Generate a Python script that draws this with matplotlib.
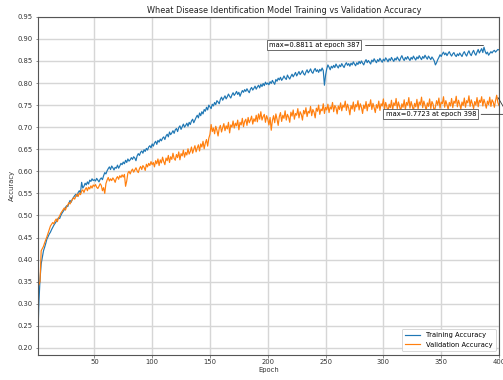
import numpy as np
import matplotlib
matplotlib.use('Agg')
import matplotlib.pyplot as plt

# accuracy per epoch
train_acc = [
    .209, .300, .355, .390, .405, .420, .428, .437, .447, .452,
    .458, .462, .468, .473, .478, .482, .486, .490, .495, .493,
    .500, .505, .509, .513, .518, .522, .520, .528, .534, .530,
    .537, .541, .545, .548, .543, .552, .556, .551, .575, .562,
    .566, .573, .569, .576, .571, .580, .577, .583, .579, .581,
    .578, .584, .580, .576, .582, .585, .581, .590, .597, .594,
    .601, .606, .610, .604, .612, .608, .603, .609, .607, .614,
    .607, .612, .618, .615, .621, .617, .625, .620, .628, .623,
    .626, .631, .627, .633, .630, .624, .635, .640, .636, .643,
    .646, .641, .649, .645, .652, .648, .655, .658, .653, .662,
    .657, .664, .668, .661, .670, .666, .673, .669, .675, .678,
    .672, .680, .684, .678, .689, .683, .687, .692, .686, .694,
    .697, .690, .699, .703, .695, .701, .707, .700, .704, .709,
    .702, .711, .706, .714, .718, .710, .716, .722, .727, .721,
    .732, .726, .735, .730, .740, .736, .745, .739, .750, .746,
    .742, .752, .748, .756, .751, .760, .757, .753, .763, .768,
    .761, .766, .771, .764, .769, .775, .770, .766, .773, .778,
    .772, .776, .781, .774, .779, .770, .777, .783, .779, .785,
    .781, .787, .782, .778, .786, .790, .784, .788, .793, .786,
    .791, .795, .789, .797, .792, .799, .794, .802, .797, .800,
    .796, .803, .799, .806, .801, .797, .808, .804, .811, .807,
    .813, .806, .810, .816, .811, .808, .818, .813, .809, .815,
    .820, .814, .819, .824, .816, .821, .826, .819, .823, .828,
    .821, .818, .825, .830, .823, .827, .832, .825, .822, .829,
    .833, .826, .830, .824, .831, .827, .834, .828, .795, .818,
    .832, .841, .836, .830, .838, .834, .840, .835, .843, .838,
    .834, .841, .837, .844, .839, .835, .842, .846, .840, .844,
    .838, .845, .841, .848, .843, .839, .846, .842, .849, .844,
    .850, .845, .841, .848, .853, .846, .851, .847, .843, .852,
    .848, .855, .850, .846, .853, .849, .856, .851, .847, .854,
    .850, .857, .853, .848, .855, .851, .858, .853, .849, .856,
    .852, .859, .854, .850, .857, .862, .855, .851, .858, .854,
    .860, .855, .851, .858, .854, .861, .856, .852, .859, .855,
    .862, .857, .853, .860, .856, .863, .858, .854, .861, .857,
    .853, .859, .855, .850, .841, .846, .853, .858, .864, .860,
    .866, .870, .864, .868, .862, .867, .871, .865, .861, .866,
    .869, .863, .860, .866, .862, .868, .864, .860, .867, .871,
    .865, .861, .868, .873, .866, .862, .869, .874, .867, .863,
    .870, .876, .868, .873, .878, .869, .8811, .872, .866, .870,
    .863, .867, .871, .868, .872, .874, .870, .873, .876, .875,
]

val_acc = [
    .337, .343, .350, .420, .425, .430, .438, .445, .452, .460,
    .468, .476, .480, .484, .481, .488, .492, .486, .494, .499,
    .505, .509, .513, .517, .512, .520, .524, .529, .526, .532,
    .536, .540, .537, .544, .548, .543, .551, .547, .555, .558,
    .552, .559, .563, .556, .564, .560, .567, .562, .569, .566,
    .570, .564, .561, .566, .572, .568, .556, .563, .550, .572,
    .580, .586, .578, .583, .579, .585, .581, .575, .584, .588,
    .582, .590, .586, .592, .587, .593, .566, .578, .596, .600,
    .594, .601, .605, .598, .603, .608, .601, .597, .606, .611,
    .604, .613, .609, .602, .616, .610, .618, .613, .622, .615,
    .620, .610, .624, .617, .628, .613, .626, .619, .632, .622,
    .615, .630, .624, .636, .620, .633, .627, .641, .629, .625,
    .638, .631, .644, .626, .640, .635, .648, .632, .643, .637,
    .651, .639, .645, .655, .641, .650, .658, .644, .653, .660,
    .646, .662, .655, .668, .651, .664, .672, .657, .675, .684,
    .706, .690, .698, .685, .702, .693, .680, .697, .704, .689,
    .699, .708, .692, .703, .696, .711, .687, .705, .700, .714,
    .698, .709, .703, .716, .694, .711, .705, .720, .701, .713,
    .718, .704, .722, .710, .716, .725, .707, .719, .713, .727,
    .712, .730, .718, .735, .716, .724, .729, .711, .726, .718,
    .705, .722, .693, .715, .726, .710, .730, .718, .704, .724,
    .733, .713, .727, .720, .737, .716, .729, .723, .711, .734,
    .725, .739, .718, .731, .727, .742, .721, .735, .729, .716,
    .738, .730, .744, .724, .736, .732, .747, .726, .740, .734,
    .721, .743, .736, .750, .729, .741, .737, .753, .731, .745,
    .739, .752, .733, .746, .741, .756, .735, .749, .744, .730,
    .748, .740, .755, .737, .750, .745, .759, .738, .752, .743,
    .728, .749, .741, .757, .736, .751, .746, .760, .739, .753,
    .745, .731, .750, .742, .758, .737, .752, .747, .762, .740,
    .754, .744, .733, .751, .743, .759, .738, .753, .748, .764,
    .741, .756, .746, .735, .752, .744, .761, .739, .755, .749,
    .765, .742, .757, .747, .736, .753, .745, .762, .740, .756,
    .750, .767, .743, .758, .748, .737, .754, .746, .763, .741,
    .757, .751, .768, .744, .759, .749, .738, .755, .747, .764,
    .742, .758, .752, .735, .746, .760, .750, .766, .743, .757,
    .753, .769, .745, .760, .751, .740, .756, .748, .765, .744,
    .759, .754, .770, .746, .761, .752, .741, .757, .749, .766,
    .745, .760, .755, .771, .747, .762, .753, .742, .758, .750,
    .767, .746, .761, .756, .769, .748, .763, .754, .743, .759,
    .751, .768, .747, .762, .757, .745, .760, .7723, .756, .749,
]

epochs = np.arange(1, len(train_acc) + 1)
train_acc = np.array(train_acc)
val_acc = np.array(val_acc)

fs = 4.9

fig = plt.figure(figsize=(5.03, 3.8), dpi=100)
ax = fig.add_axes([37.7/503, 25.5/380, 461.3/503, 337.7/380])

ax.plot(epochs, train_acc, color='#1f77b4', lw=0.85, label='Training Accuracy')
ax.plot(epochs, val_acc, color='#ff7f0e', lw=0.85, label='Validation Accuracy')

ax.set_xlim(1, 400)
ax.set_ylim(0.185, 0.95)
ax.set_xticks(np.arange(50, 401, 50))
ax.set_yticks(np.arange(0.20, 0.951, 0.05))
ax.yaxis.set_major_formatter(matplotlib.ticker.FormatStrFormatter('%.2f'))
ax.tick_params(labelsize=fs, length=1.8, width=0.4, pad=1.6, colors='#333333')
ax.grid(True, color='#d6d6d6', lw=1.0)
for s in ax.spines.values():
    s.set_color('#555555')
    s.set_linewidth(0.8)

ax.set_title('Wheat Disease Identification Model Training vs Validation Accuracy',
             fontsize=5.9, x=0.534, pad=3, color='#222222')
ax.set_xlabel('Epoch', fontsize=fs, labelpad=1.5, color='#333333')
ax.set_ylabel('Accuracy', fontsize=fs, labelpad=2, color='#333333')

# annotate the maximum of each curve
bbox_props = dict(boxstyle='square,pad=0.3', fc='w', ec='#555555', lw=0.6)
arrowprops = dict(arrowstyle='-', color='#333333', lw=0.6,
                  connectionstyle='angle,angleA=0,angleB=-60')

i = np.argmax(train_acc)
ax.annotate(f'max={train_acc[i]:.4f} at epoch {epochs[i]}', xy=(epochs[i], train_acc[i]),
            xytext=(240, 0.8865), ha='center', va='center', fontsize=fs,
            bbox=bbox_props, arrowprops=arrowprops)

j = np.argmax(val_acc)
ax.annotate(f'max={val_acc[j]:.4f} at epoch {epochs[j]}', xy=(epochs[j], val_acc[j]),
            xytext=(341, 0.729), ha='center', va='center', fontsize=fs,
            bbox=bbox_props, arrowprops=arrowprops)

leg = ax.legend(loc='lower right', fontsize=fs, handlelength=2.2, borderpad=0.5,
                labelspacing=0.5, framealpha=0.9, edgecolor='#cccccc')
leg.get_frame().set_linewidth(0.6)

fig.savefig('out.png', dpi=100)
